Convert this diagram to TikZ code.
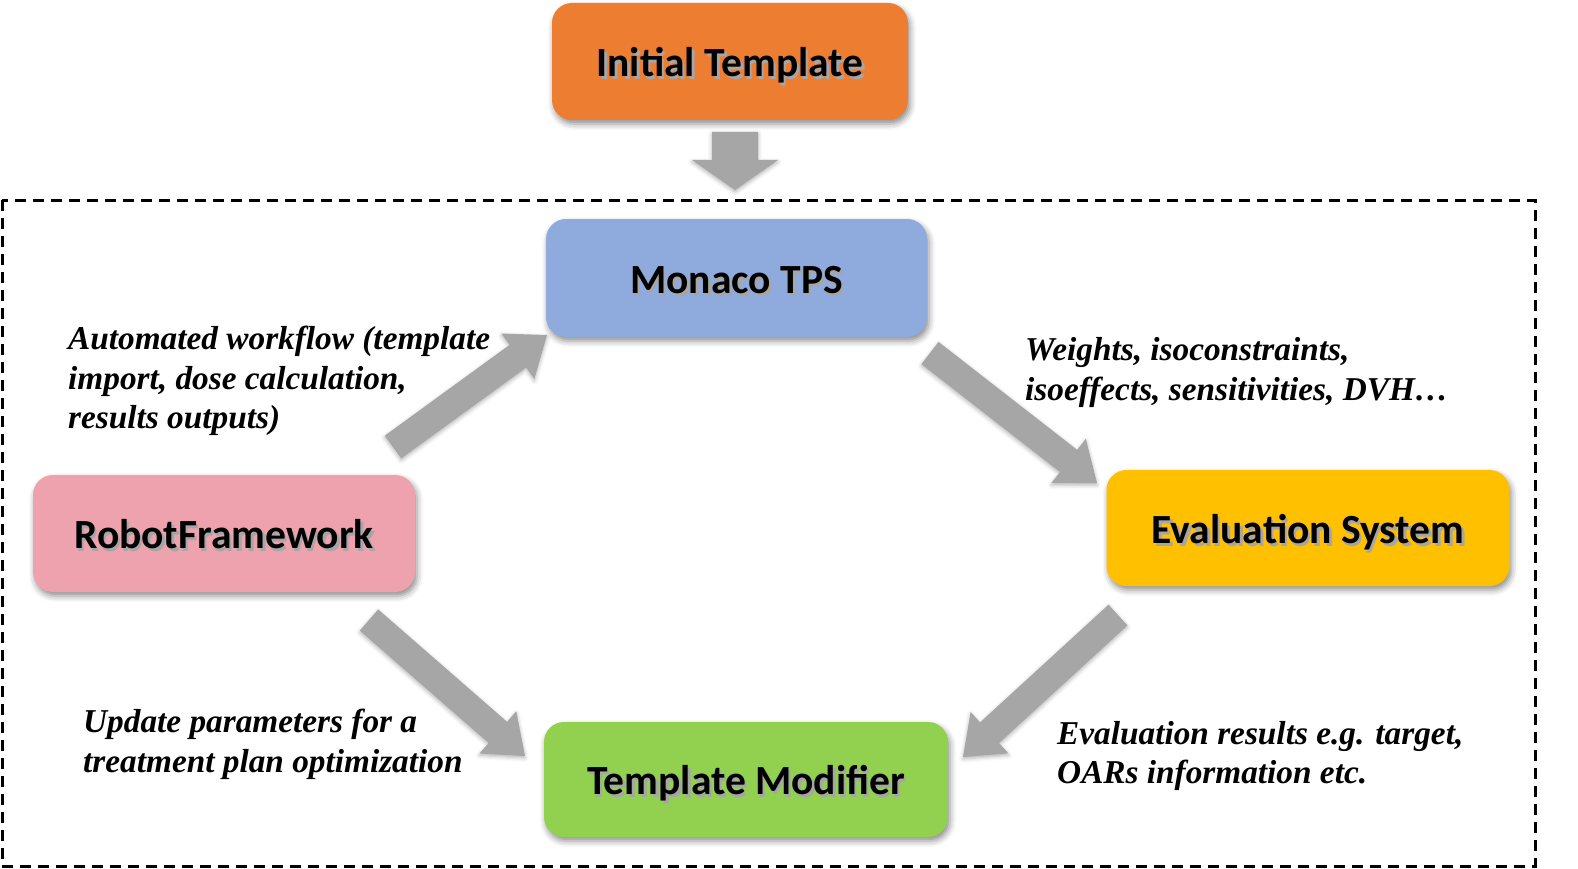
\documentclass[tikz,border=0pt]{standalone}
\usepackage{fontspec}
\setmainfont{Liberation Serif}
\newfontfamily\calfont{Carlito}
\usetikzlibrary{calc,shadows.blur}
\definecolor{cOrange}{HTML}{ED7D31}
\definecolor{cBlue}{HTML}{8FAADC}
\definecolor{cPink}{HTML}{EEA2AD}
\definecolor{cGold}{HTML}{FFC000}
\definecolor{cGreen}{HTML}{92D050}
\definecolor{cGray}{HTML}{A6A6A6}
\newcommand\boxlabel[1]{\makebox[0pt][l]{\kern2.5pt\raisebox{-3pt}{\color{black!35}#1}}#1}
\newcommand\blockarr[5]{%
  \path let \p1=($(#2)-(#1)$) in \pgfextra{\pgfmathsetmacro\tmpang{atan2(\y1,\x1)}\pgfmathsetmacro\tmplen{veclen(\x1,\y1)}\xdef\barang{\tmpang}\xdef\barlen{\tmplen}};
  \begin{scope}[shift={(#1)},rotate=\barang]
    \fill[cGray, blur shadow={shadow xshift=0pt,shadow yshift=-2pt,shadow blur radius=4pt,shadow opacity=30}]
      (0,#3) -- (\barlen-#5,#3) -- (\barlen-#5,#4) -- (\barlen,0) -- (\barlen-#5,-#4) -- (\barlen-#5,-#3) -- (0,-#3) -- cycle;
  \end{scope}}
\tikzset{
  boxnode/.style={rounded corners=20pt, inner sep=0pt, text height=30pt, text depth=0pt,
    font=\calfont\bfseries\fontsize{41.5}{50}\selectfont,
    blur shadow={shadow xshift=2pt,shadow yshift=-4pt,shadow blur radius=6pt,shadow opacity=45}},
  lbl/.style={inner sep=0pt, align=left, anchor=west, font=\bfseries\itshape\fontsize{33.3}{39.5}\selectfont},
}
\begin{document}
\begin{tikzpicture}[x=1pt,y=-1pt]
\useasboundingbox (0,0) rectangle (1578,869);
\draw[line width=3pt, dash pattern=on 11pt off 7pt] (2,200) rectangle (1535,866);
\node[boxnode, fill=cOrange, minimum width=356pt, minimum height=117pt] (init) at (730,61.5) {\boxlabel{Initial Template}};
\node[boxnode, fill=cBlue, minimum width=381pt, minimum height=118pt] (monaco) at (736.5,278) {\boxlabel{Monaco TPS}};
\node[boxnode, fill=cPink, minimum width=382pt, minimum height=117pt] (robot) at (224,533.5) {\boxlabel{RobotFramework}};
\node[boxnode, fill=cGold, minimum width=403pt, minimum height=116pt] (eval) at (1308,528) {\boxlabel{Evaluation System}};
\node[boxnode, fill=cGreen, minimum width=404pt, minimum height=115pt] (tm) at (746,779.5) {\boxlabel{Template Modifier}};
\coordinate (a0s) at (735,132); \coordinate (a0e) at (735,190);
\coordinate (a1s) at (393,447); \coordinate (a1e) at (547,335);
\coordinate (a2s) at (930,353); \coordinate (a2e) at (1097,483);
\coordinate (a3s) at (1118,615); \coordinate (a3e) at (963,757);
\coordinate (a4s) at (369,620); \coordinate (a4e) at (525,756);
\blockarr{a0s}{a0e}{23}{43}{30}
\blockarr{a1s}{a1e}{14}{28}{36}
\blockarr{a2s}{a2e}{14}{28}{36}
\blockarr{a3s}{a3e}{14}{28}{36}
\blockarr{a4s}{a4e}{14}{28}{36}
\node[lbl] (l1) at (68,381) {Automated workflow (template\\import, dose calculation,\\results outputs)};
\node[lbl] (l2) at (1025,372.5) {Weights, isoconstraints,\\isoeffects, sensitivities, DVH…};
\node[lbl] (l3) at (83,744.5) {Update parameters for a\\treatment plan optimization};
\node[lbl] (l4) at (1057,756) {Evaluation results e.g. target,\\OARs information etc.};
\end{tikzpicture}
\end{document}
